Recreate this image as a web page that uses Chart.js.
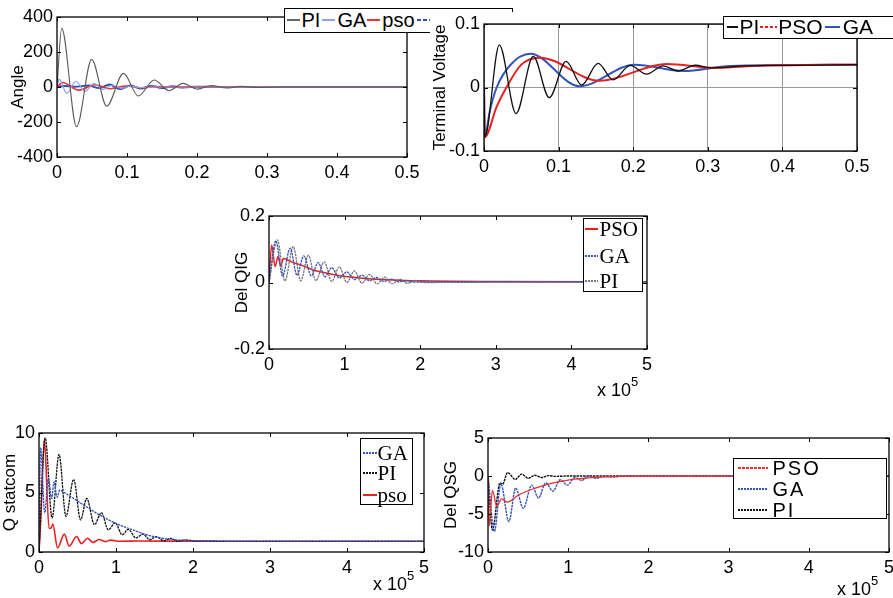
<!DOCTYPE html>
<html>
<head>
<meta charset="utf-8">
<script src="https://cdn.jsdelivr.net/npm/chart.js@4.4.1/dist/chart.umd.min.js"></script>
<style>
  body { margin: 0; width: 893px; height: 598px; overflow: hidden; position: relative; background: #fff;
         font-family: "Liberation Sans", Arial, sans-serif; color: #000; }
  canvas { position: absolute; background: #fff; }
  .leg { position: absolute; border: 1.5px solid #000; background: #fff; box-sizing: border-box; }
  .row { position: absolute; display: flex; align-items: center; white-space: nowrap; }
  .ln { display: inline-block; height: 2px; }
  .serif { font-family: "Liberation Serif", "Times New Roman", serif; }
  .xmul { position: absolute; font-size: 18px; white-space: nowrap; }
  .xmul sup { font-size: 13px; position: relative; top: -3px; }
</style>
</head>
<body>
<canvas id="angle"></canvas>
<div class="leg" style="left:284px;top:8px;width:229px;height:25px;z-index:1">
  <div class="row" style="left:1.5px;top:-1.5px;height:25px;font-size:20px">
    <span class="ln" style="width:13px;background:#666"></span><span style="margin:0 2px">PI</span>
    <span class="ln" style="width:13px;background:#8aa4e6"></span><span style="margin:0 1px 0 2px">GA</span>
    <span class="ln" style="width:13px;background:#ee3030"></span><span style="margin:0 2px">pso</span>
    <span class="ln" style="width:13px;background:repeating-linear-gradient(90deg,#2f4fb5 0 4px,transparent 4px 6px)"></span>
  </div>
</div>
<canvas id="tv" style="z-index:2"></canvas>
<div class="leg" style="left:723px;top:16px;width:190px;height:23px;z-index:3">
  <div class="row" style="left:2.5px;top:-1.5px;height:23px;font-size:21px">
    <span class="ln" style="width:11px;background:#111"></span><span style="margin:0 1px 0 2px">PI</span>
    <span class="ln" style="width:17px;background:repeating-linear-gradient(90deg,#e82020 0 3px,transparent 3px 5px)"></span><span style="margin:0 2px 0 1px">PSO</span>
    <span class="ln" style="width:15px;background:#3355bb"></span><span style="margin:0 0 0 3px">GA</span>
  </div>
</div>
<canvas id="qig"></canvas>
<div class="leg serif" style="left:583px;top:218px;width:60px;height:74px;font-size:21px">
  <div class="row" style="left:0.5px;top:-2px;height:24px"><span class="ln" style="width:13px;background:#e82020"></span><span style="margin-left:2px">PSO</span></div>
  <div class="row" style="left:0.5px;top:25px;height:24px"><span class="ln" style="width:13px;background:repeating-linear-gradient(90deg,#3355bb 0 2px,transparent 2px 3px)"></span><span style="margin-left:2px">GA</span></div>
  <div class="row" style="left:0.5px;top:50px;height:24px"><span class="ln" style="width:13px;background:repeating-linear-gradient(90deg,#777 0 2px,transparent 2px 3px)"></span><span style="margin-left:2px">PI</span></div>
</div>
<div class="xmul" style="left:597px;top:377px">x 10<sup>5</sup></div>
<canvas id="qs"></canvas>
<div class="leg serif" style="left:360px;top:438px;width:53px;height:67px;font-size:21px">
  <div class="row" style="left:1.5px;top:3px;height:22px"><span class="ln" style="width:14px;background:repeating-linear-gradient(90deg,#3355bb 0 2px,transparent 2px 3px)"></span><span style="margin-left:1px">GA</span></div>
  <div class="row" style="left:1.5px;top:23px;height:22px"><span class="ln" style="width:14px;background:repeating-linear-gradient(90deg,#111 0 2px,transparent 2px 3px)"></span><span style="margin-left:1px">PI</span></div>
  <div class="row" style="left:1.5px;top:45px;height:22px"><span class="ln" style="width:14px;background:#e82020"></span><span style="margin-left:1px">pso</span></div>
</div>
<div class="xmul" style="left:373px;top:571px">x 10<sup>5</sup></div>
<canvas id="qsg"></canvas>
<div class="leg" style="left:733px;top:458px;width:154px;height:61px;font-size:20px;letter-spacing:2px">
  <div class="row" style="left:3.5px;top:-2px;height:22px"><span class="ln" style="width:30px;background:repeating-linear-gradient(90deg,#e83030 0 3px,transparent 3px 4px)"></span><span style="margin-left:5px">PSO</span></div>
  <div class="row" style="left:3.5px;top:19px;height:22px"><span class="ln" style="width:30px;background:repeating-linear-gradient(90deg,#3355bb 0 2px,transparent 2px 3px)"></span><span style="margin-left:5px">GA</span></div>
  <div class="row" style="left:3.5px;top:40px;height:22px"><span class="ln" style="width:30px;background:repeating-linear-gradient(90deg,#111 0 2px,transparent 2px 3px)"></span><span style="margin-left:5px">PI</span></div>
</div>
<div class="xmul" style="left:837px;top:576px">x 10<sup>5</sup></div>

<script>
// Angle (time in s)
const anglePI_t = [0, 0.0067, 0.028, 0.0495, 0.071, 0.095, 0.116, 0.139, 0.160, 0.180, 0.2005, 0.221, 0.242, 0.263, 0.284, 0.32, 0.4, 0.5];
const anglePI_y = [0, 335, -227, 158, -109, 78, -51, 40, -21, 21, -12, 9, -6, 4, -3, 0, 0, 0];
const angleGA_t = [0, 0.003, 0.014, 0.027, 0.040, 0.053, 0.066, 0.079, 0.092, 0.105, 0.118, 0.14, 0.2, 0.5];
const angleGA_y = [0, 45, -36, 33, -25, 20, -14, 10, -8, 5, -3, 0, 0, 0];
const anglePSO_t = [0, 0.008, 0.031, 0.054, 0.076, 0.098, 0.12, 0.142, 0.165, 0.2, 0.5];
const anglePSO_y = [0, 26, -18, 13, -10, 6, -4, 3, -1, 0, 0];
const angleB_t = [0, 0.01, 0.025, 0.045, 0.06, 0.075, 0.09, 0.105, 0.12, 0.135, 0.15, 0.165, 0.18, 0.2, 0.23, 0.5];
const angleB_y = [0, 6, 2, 8, -6, 14, -12, 8, -9, 6, -6, 4, -3, 2, 0, 0];

// Terminal voltage
const tvPI_t = [0, 0.001, 0.0205, 0.043, 0.066, 0.0875, 0.11, 0.131, 0.153, 0.173, 0.196, 0.218, 0.24, 0.26, 0.283, 0.305, 0.35, 0.42, 0.5];
const tvPI_y = [0, -0.078, 0.067, -0.041, 0.049, -0.016, 0.041, 0.004, 0.038, 0.012, 0.035, 0.021, 0.034, 0.026, 0.035, 0.031, 0.034, 0.035, 0.036];
const tvPSO_t = [0, 0.001, 0.017, 0.03, 0.05, 0.075, 0.155, 0.245, 0.31, 0.38, 0.5];
const tvPSO_y = [0, -0.078, -0.03, 0.0, 0.036, 0.047, 0.0105, 0.037, 0.031, 0.035, 0.036];
const tvGA_t = [0, 0.001, 0.008, 0.017, 0.035, 0.062, 0.128, 0.202, 0.267, 0.33, 0.4, 0.5];
const tvGA_y = [0, -0.078, -0.036, 0.0, 0.035, 0.053, 0.002, 0.036, 0.026, 0.034, 0.035, 0.036];

// Del QIG (x 10^5)
const qigPSO_t = [0, 0.035, 0.08, 0.12, 0.155, 0.19, 0.3, 0.45, 0.61, 0.83, 1.05, 1.27, 1.5, 1.71, 2.0, 3.0, 5.0];
const qigPSO_y = [0, 0.113, 0.048, 0.078, 0.05, 0.072, 0.062, 0.05, 0.036, 0.025, 0.017, 0.012, 0.009, 0.007, 0.005, 0.003, 0.002];
const qigGA_t = [0, 0.09, 0.18, 0.28, 0.37, 0.46, 0.56, 0.65, 0.74, 0.83, 0.93, 1.03, 1.13, 1.23, 1.33, 1.42, 1.52, 1.62, 1.72, 1.82, 1.92, 2.1, 3.0, 5.0];
const qigGA_y = [0, 0.125, 0.02, 0.103, 0.022, 0.08, 0.02, 0.06, 0.017, 0.045, 0.013, 0.032, 0.009, 0.022, 0.005, 0.015, 0.003, 0.01, 0.002, 0.006, 0.001, 0.002, 0.002, 0.002];
const qigPI_t = [0, 0.11, 0.21, 0.32, 0.42, 0.52, 0.62, 0.73, 0.83, 0.93, 1.03, 1.13, 1.23, 1.33, 1.43, 1.53, 1.63, 1.73, 1.83, 1.93, 2.05, 3.0, 5.0];
const qigPI_y = [0, 0.128, 0.005, 0.108, 0.005, 0.082, 0.005, 0.062, 0.003, 0.047, 0.0, 0.035, -0.002, 0.024, -0.004, 0.016, -0.004, 0.01, -0.002, 0.006, 0.0, 0.001, 0.001];

// Q statcom (x 10^5)
const qsGA_t = [0, 0.02, 0.075, 0.12, 0.165, 0.195, 0.235, 0.27, 0.35, 0.58, 0.79, 1.0, 1.22, 1.44, 1.66, 1.87, 2.09, 2.5, 5.0];
const qsGA_y = [0, 8.8, 3.3, 6.2, 4.5, 5.9, 4.6, 5.2, 4.9, 3.95, 3.1, 2.4, 1.85, 1.37, 1.1, 0.98, 0.93, 0.9, 0.9];
const qsPI_t = [0, 0.08, 0.17, 0.26, 0.35, 0.45, 0.54, 0.62, 0.72, 0.81, 0.9, 0.99, 1.08, 1.16, 1.26, 1.35, 1.44, 1.52, 1.62, 1.71, 1.8, 1.9, 2.05, 2.5, 5.0];
const qsPI_y = [0, 9.6, 2.86, 8.2, 3.0, 6.1, 2.7, 4.5, 2.3, 3.3, 1.87, 2.45, 1.45, 1.9, 1.18, 1.5, 1.03, 1.3, 0.95, 1.15, 0.9, 1.02, 0.92, 0.9, 0.9];
const qsPSO_t = [0, 0.025, 0.07, 0.13, 0.155, 0.18, 0.24, 0.33, 0.39, 0.49, 0.55, 0.63, 0.7, 0.78, 0.86, 0.93, 1.05, 1.3, 2.0, 5.0];
const qsPSO_y = [0, 3, 9.5, 2.0, 2.0, 2.35, 0.35, 1.5, 0.5, 1.3, 0.7, 1.15, 0.8, 1.05, 0.87, 1.0, 0.9, 0.92, 0.9, 0.9];

// Del QSG (x 10^5)
const qsgPSO_t = [0, 0.015, 0.055, 0.11, 0.17, 0.24, 0.38, 0.59, 0.79, 1.0, 1.21, 1.42, 1.63, 2.0, 5.0];
const qsgPSO_y = [0, -6.6, -1.9, -4.0, -3.0, -3.45, -2.5, -1.6, -0.97, -0.53, -0.3, -0.15, -0.05, 0, 0];
const qsgGA_t = [0, 0.08, 0.16, 0.26, 0.345, 0.44, 0.545, 0.63, 0.72, 0.81, 0.9, 0.99, 1.085, 1.17, 1.25, 1.355, 1.45, 1.55, 1.7, 2.0, 5.0];
const qsgGA_y = [0, -7.3, -1.0, -6.0, -1.6, -4.25, -1.2, -2.9, -0.9, -2.0, -0.5, -1.2, -0.2, -0.6, 0, -0.3, 0, -0.15, 0, 0, 0];
const qsgPI_t = [0, 0.055, 0.15, 0.18, 0.245, 0.34, 0.42, 0.5, 0.585, 0.67, 0.75, 0.85, 1.0, 5.0];
const qsgPI_y = [0, -7.1, -0.9, -1.1, 0.45, -0.45, 0.25, -0.3, 0.1, -0.2, 0.05, -0.05, 0, 0];

const FONT = '"Liberation Sans", Arial, sans-serif';
const padT = 12, xH = 30;

function pts(ts, ys) {
  return ts.map((t, i) => ({ x: t, y: ys[i] }));
}

function line(data, color, width, dash) {
  return {
    data: data,
    borderColor: color,
    borderWidth: width,
    borderDash: dash || [],
    pointRadius: 0,
    cubicInterpolationMode: "monotone",
    fill: false,
  };
}

// matlab style box with inward ticks
const frame = {
  id: "frame",
  afterDatasetsDraw(chart) {
    const { ctx, chartArea: a, scales } = chart;
    const x = scales.x, y = scales.y;
    ctx.save();
    ctx.strokeStyle = "#000";
    ctx.lineWidth = 1;
    ctx.beginPath();
    x.ticks.forEach((t) => {
      const px = Math.round(x.getPixelForValue(t.value)) + 0.5;
      ctx.moveTo(px, a.bottom); ctx.lineTo(px, a.bottom - 4);
      ctx.moveTo(px, a.top); ctx.lineTo(px, a.top + 4);
    });
    y.ticks.forEach((t) => {
      const py = Math.round(y.getPixelForValue(t.value)) + 0.5;
      ctx.moveTo(a.left, py); ctx.lineTo(a.left + 4, py);
      ctx.moveTo(a.right, py); ctx.lineTo(a.right - 4, py);
    });
    ctx.stroke();
    ctx.lineWidth = 1.3;
    ctx.strokeRect(a.left, a.top, a.right - a.left, a.bottom - a.top);
    ctx.restore();
  },
};

function fmt(v) {
  return String(Math.round(v * 100) / 100);
}

function makeChart(id, o) {
  const cv = document.getElementById(id);
  const yW = o.L - o.axL;
  const padR = o.W - (o.R - o.axL);
  cv.width = o.W;
  cv.height = o.B - o.T + padT + xH;
  cv.style.left = o.axL + "px";
  cv.style.top = o.T - padT + "px";
  return new Chart(cv.getContext("2d"), {
    type: "line",
    data: { datasets: o.datasets },
    plugins: [frame],
    options: {
      responsive: false,
      animation: false,
      devicePixelRatio: 1,
      layout: { padding: { left: 0, top: padT, right: padR, bottom: 0 } },
      plugins: { legend: { display: false }, tooltip: { enabled: false } },
      scales: {
        x: {
          type: "linear",
          min: o.xMin, max: o.xMax,
          border: { display: false },
          grid: { display: !!o.grid, drawTicks: false, color: "#999", lineWidth: 1 },
          ticks: { stepSize: o.xStep, color: "#000", font: { family: FONT, size: 18 }, padding: 5,
                   maxRotation: 0, autoSkip: false, callback: fmt },
          afterFit(axis) { axis.height = xH; axis.paddingLeft = 0; axis.paddingRight = 0; },
        },
        y: {
          type: "linear",
          min: o.yMin, max: o.yMax,
          border: { display: false },
          grid: { display: !!o.grid, drawTicks: false, color: "#999", lineWidth: 1 },
          ticks: { stepSize: o.yStep, color: "#000", font: { family: FONT, size: 18 }, padding: 4,
                   autoSkip: false, callback: fmt },
          title: { display: true, text: o.title, color: "#000", font: { family: FONT, size: 17 }, padding: 0 },
          afterFit(axis) { axis.width = yW; axis.paddingTop = 0; axis.paddingBottom = 0; },
        },
      },
    },
  });
}

makeChart("angle", {
  axL: 8, L: 57, T: 17, R: 407, B: 157, W: 415,
  xMin: 0, xMax: 0.5, xStep: 0.1, yMin: -400, yMax: 400, yStep: 200, title: "Angle",
  datasets: [
    line(pts(anglePI_t, anglePI_y), "#5a5a5a", 1.1),
    line(pts(angleGA_t, angleGA_y), "#8aa4e6", 1.2),
    line(pts(anglePSO_t, anglePSO_y), "#ee3030", 1.6),
    line(pts(angleB_t, angleB_y), "#2f4fb5", 2),
  ],
});

makeChart("tv", {
  axL: 430, L: 484, T: 24, R: 857, B: 151, W: 463, grid: true,
  xMin: 0, xMax: 0.5, xStep: 0.1, yMin: -0.1, yMax: 0.1, yStep: 0.1, title: "Terminal Voltage",
  datasets: [
    line(pts(tvPI_t, tvPI_y), "#111", 1.3),
    line(pts(tvPSO_t, tvPSO_y), "#e82020", 2),
    line(pts(tvGA_t, tvGA_y), "#3355bb", 2),
  ],
});

makeChart("qig", {
  axL: 232, L: 269, T: 216, R: 647, B: 349, W: 431,
  xMin: 0, xMax: 5, xStep: 1, yMin: -0.2, yMax: 0.2, yStep: 0.2, title: "Del QIG",
  datasets: [
    line(pts(qigGA_t, qigGA_y), "#3355bb", 1.3, [2.5, 0.8]),
    line(pts(qigPI_t, qigPI_y), "#777", 1.3, [2.5, 0.8]),
    line(pts(qigPSO_t, qigPSO_y), "#e82020", 1.5),
  ],
});

makeChart("qs", {
  axL: 0, L: 39, T: 433, R: 424, B: 552, W: 440,
  xMin: 0, xMax: 5, xStep: 1, yMin: 0, yMax: 10, yStep: 5, title: "Q statcom",
  datasets: [
    line(pts(qsGA_t, qsGA_y), "#3355bb", 1.3, [2.5, 0.8]),
    line(pts(qsPI_t, qsPI_y), "#111", 1.3, [2.5, 0.8]),
    line(pts(qsPSO_t, qsPSO_y), "#e82020", 1.6),
  ],
});

makeChart("qsg", {
  axL: 441, L: 488, T: 438, R: 889, B: 552, W: 452,
  xMin: 0, xMax: 5, xStep: 1, yMin: -10, yMax: 5, yStep: 5, title: "Del QSG",
  datasets: [
    line(pts(qsgPSO_t, qsgPSO_y), "#e83030", 1.3),
    line(pts(qsgGA_t, qsgGA_y), "#3355bb", 1.4, [2.5, 0.8]),
    line(pts(qsgPI_t, qsgPI_y), "#111", 1.4, [2.5, 0.8]),
  ],
});
</script>
</body>
</html>
